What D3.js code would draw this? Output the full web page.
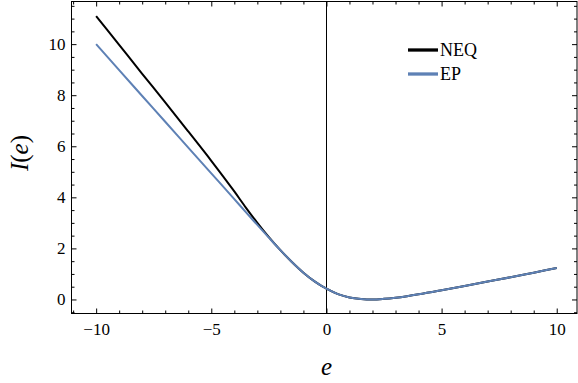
<!DOCTYPE html>
<html>
<head>
<meta charset="utf-8">
<script src="https://cdn.jsdelivr.net/npm/d3@7"></script>
<style>
  body { margin: 0; background: #fff; }
  svg { display: block; }
  .tick text { font-family: "Liberation Serif", "Times New Roman", serif; font-size: 17px; fill: #000; }
</style>
</head>
<body>
<div id="chart"></div>
<script>
// values
const eValues = [-10, -9, -8, -7, -6, -5, -4, -3.5, -3, -2.5, -2, -1.5, -1, -0.5, 0, 0.5, 1, 1.5, 2, 2.5, 3, 3.5, 4, 5, 6, 7, 8, 9, 10];
const epValues = [10.0, 8.98, 7.97, 6.96, 5.95, 4.94, 3.93, 3.42, 2.92, 2.42, 1.93, 1.47, 1.05, 0.70, 0.42, 0.21, 0.08, 0.02, 0.0, 0.025, 0.07, 0.13, 0.20, 0.36, 0.53, 0.70, 0.87, 1.05, 1.23];
const neqValues = [11.1, 9.97, 8.84, 7.72, 6.58, 5.43, 4.23, 3.60, 3.00, 2.44, 1.93, 1.47, 1.05, 0.70, 0.42, 0.21, 0.08, 0.02, 0.0, 0.025, 0.07, 0.13, 0.20, 0.36, 0.53, 0.70, 0.87, 1.05, 1.23];
const seriesNames = ['NEQ', 'EP'];
const seriesColors = ['#000000', '#5e81b5'];
const xMajorTicks = [-10, -5, 0, 5, 10];
const yMajorTicks = [0, 2, 4, 6, 8, 10];

const width = 578, height = 383;
const frame = { left: 71.5, right: 577, top: 1.5, bottom: 313.5 };

const svg = d3.select('#chart').append('svg')
  .attr('width', width)
  .attr('height', height);

const x = d3.scaleLinear().domain([-11.07, 10.88]).range([frame.left, frame.right]);
const y = d3.scaleLinear().domain([-0.55, 11.67]).range([frame.bottom, frame.top]);

const xMinor = d3.range(-11, 11, 1).filter(v => !xMajorTicks.includes(v));
const yMinor = d3.range(-0.5, 11.6, 0.5).filter(v => !yMajorTicks.includes(v));

function styleAxis(g) {
  g.select('.domain').remove();
  g.selectAll('.tick line').attr('stroke', '#000').attr('stroke-width', 1);
}

// bottom axis with labels
svg.append('g')
  .attr('transform', `translate(0,${frame.bottom})`)
  .call(d3.axisBottom(x).tickValues(xMajorTicks).tickSize(-5).tickPadding(9).tickFormat(d3.format('d')))
  .call(styleAxis);
svg.append('g')
  .attr('transform', `translate(0,${frame.bottom})`)
  .call(d3.axisBottom(x).tickValues(xMinor).tickSize(-3).tickFormat(''))
  .call(styleAxis);

// top axis, ticks only
svg.append('g')
  .attr('transform', `translate(0,${frame.top})`)
  .call(d3.axisTop(x).tickValues(xMajorTicks).tickSize(-5).tickFormat(''))
  .call(styleAxis);
svg.append('g')
  .attr('transform', `translate(0,${frame.top})`)
  .call(d3.axisTop(x).tickValues(xMinor).tickSize(-3).tickFormat(''))
  .call(styleAxis);

// left axis with labels
svg.append('g')
  .attr('transform', `translate(${frame.left},0)`)
  .call(d3.axisLeft(y).tickValues(yMajorTicks).tickSize(-5).tickPadding(6).tickFormat(d3.format('d')))
  .call(styleAxis);
svg.append('g')
  .attr('transform', `translate(${frame.left},0)`)
  .call(d3.axisLeft(y).tickValues(yMinor).tickSize(-3).tickFormat(''))
  .call(styleAxis);

// right axis, ticks only
svg.append('g')
  .attr('transform', `translate(${frame.right},0)`)
  .call(d3.axisRight(y).tickValues(yMajorTicks).tickSize(-5).tickFormat(''))
  .call(styleAxis);
svg.append('g')
  .attr('transform', `translate(${frame.right},0)`)
  .call(d3.axisRight(y).tickValues(yMinor).tickSize(-3).tickFormat(''))
  .call(styleAxis);

// frame
svg.append('rect')
  .attr('x', frame.left)
  .attr('y', frame.top)
  .attr('width', frame.right - frame.left)
  .attr('height', frame.bottom - frame.top)
  .attr('fill', 'none')
  .attr('stroke', '#000')
  .attr('stroke-width', 1);

// vertical line at e = 0
svg.append('line')
  .attr('x1', Math.round(x(0)) + 0.5)
  .attr('x2', Math.round(x(0)) + 0.5)
  .attr('y1', frame.top)
  .attr('y2', frame.bottom)
  .attr('stroke', '#000')
  .attr('stroke-width', 1);

// curves
const line = d3.line()
  .x(d => x(d[0]))
  .y(d => y(d[1]))
  .curve(d3.curveMonotoneX);

const series = [neqValues, epValues];
series.forEach((vals, i) => {
  svg.append('path')
    .datum(eValues.map((e, j) => [e, vals[j]]))
    .attr('d', line)
    .attr('fill', 'none')
    .attr('stroke', seriesColors[i])
    .attr('stroke-width', 2);
});

// legend
const legend = svg.append('g').attr('transform', 'translate(408,50)');
const items = legend.selectAll('.legend-item')
  .data(seriesNames)
  .enter()
  .append('g')
  .attr('class', 'legend-item')
  .attr('transform', (d, i) => `translate(0,${i * 24})`);

items.append('line')
  .attr('x1', 0)
  .attr('x2', 30)
  .attr('y1', 0)
  .attr('y2', 0)
  .attr('stroke', (d, i) => seriesColors[i])
  .attr('stroke-width', 3.3);

items.append('text')
  .attr('x', 32)
  .attr('y', 5.5)
  .style('font-family', '"Liberation Serif", "Times New Roman", serif')
  .style('font-size', '18px')
  .text(d => d);

// axis titles
svg.append('text')
  .attr('x', x(0))
  .attr('y', 375)
  .attr('text-anchor', 'middle')
  .style('font-family', '"Liberation Serif", "Times New Roman", serif')
  .style('font-style', 'italic')
  .style('font-size', '25px')
  .text('e');

svg.append('text')
  .attr('transform', 'translate(28,153) rotate(-90)')
  .attr('text-anchor', 'middle')
  .style('font-family', '"Liberation Serif", "Times New Roman", serif')
  .style('font-size', '25px')
  .html('<tspan font-style="italic">I</tspan>(<tspan font-style="italic">e</tspan>)');
</script>
</body>
</html>
